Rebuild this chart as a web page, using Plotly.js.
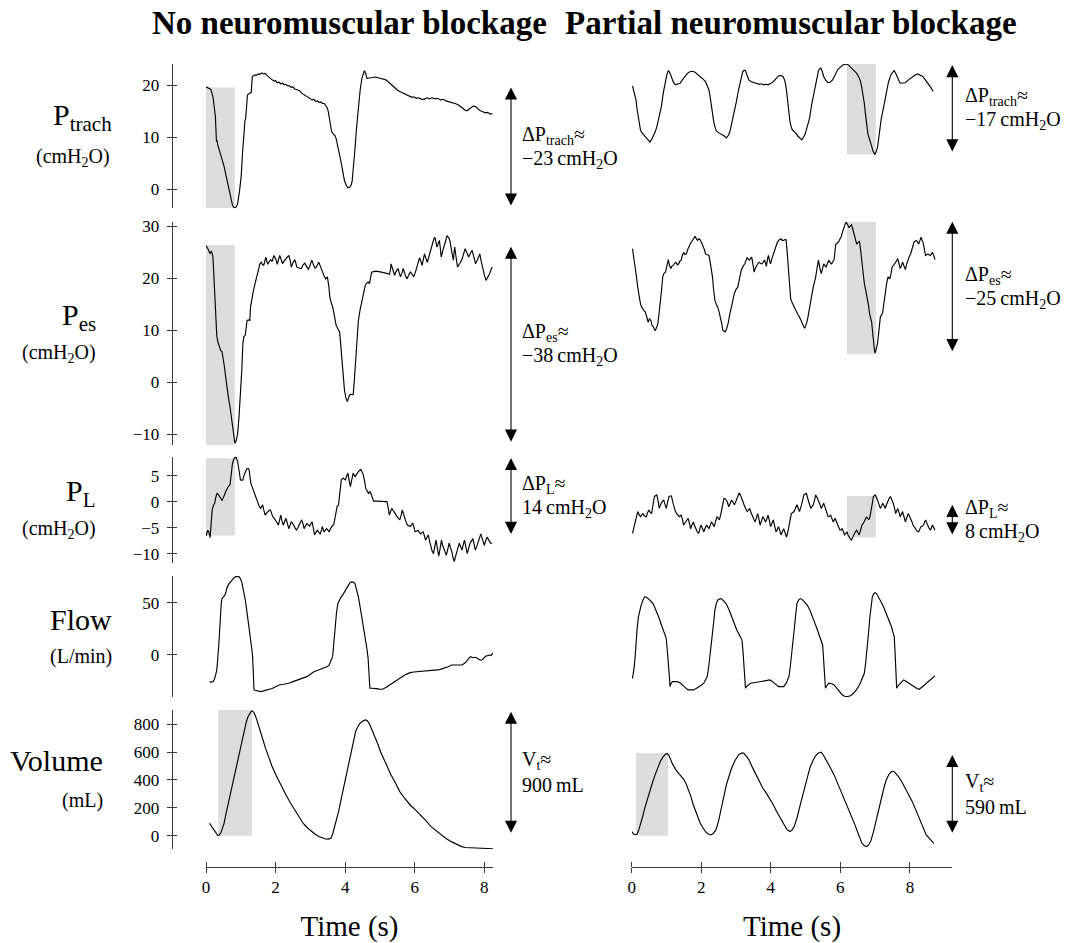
<!DOCTYPE html>
<html><head><meta charset="utf-8">
<script src="https://cdn.plot.ly/plotly-3.0.1.min.js"></script>
<style>html,body{margin:0;padding:0;background:#fff}</style>
</head><body><div id="chart" style="width:1075px;height:943px"></div>
<script>
// ---------------- DATA (time s, value) ----------------
const pTrachLeft = [[0,19.7],[0.07,19.5],[0.14,19.2],[0.2,17.8],[0.24,15.5],[0.27,14],[0.3,9.2],[0.32,9.3],[0.34,8.5],[0.38,7.6],[0.42,6.9],[0.47,5.6],[0.52,4.4],[0.56,3.1],[0.61,1.5],[0.65,0],[0.69,-1.4],[0.73,-2.3],[0.76,-3],[0.8,-3.5],[0.83,-3.6],[0.87,-3.4],[0.91,-2.7],[0.96,-0.5],[1.01,2.4],[1.05,7],[1.09,12],[1.12,13.2],[1.14,13.6],[1.17,16.5],[1.19,18.1],[1.23,18.4],[1.26,18.5],[1.3,18.6],[1.33,21.7],[1.37,21.8],[1.41,22],[1.45,21.9],[1.5,22.2],[1.55,22.1],[1.6,22.4],[1.65,22.2],[1.7,22.3],[1.75,21.9],[1.8,21.6],[1.85,21.3],[1.9,21.1],[1.95,20.8],[2.0,20.9],[2.05,20.5],[2.1,20.6],[2.15,20.3],[2.2,20.4],[2.25,20.1],[2.3,20.2],[2.35,19.9],[2.4,19.9],[2.45,19.6],[2.5,19.7],[2.55,19.3],[2.6,19.2],[2.65,19.0],[2.7,18.9],[2.75,18.5],[2.8,18.3],[2.85,18.1],[2.9,17.9],[2.95,17.6],[3.0,17.5],[3.05,17.2],[3.1,17.3],[3.15,16.9],[3.2,17.0],[3.25,16.7],[3.3,16.8],[3.35,16.5],[3.4,16.5],[3.45,16.1],[3.49,15.6],[3.52,14.8],[3.54,14],[3.57,12.0],[3.61,11.1],[3.66,10.6],[3.7,10.4],[3.74,9.8],[3.79,8.3],[3.84,6.9],[3.89,5.0],[3.94,3.1],[3.98,1.7],[4.03,0.8],[4.08,0.3],[4.13,0.4],[4.17,0.8],[4.2,1.5],[4.24,4.0],[4.28,7.6],[4.33,12],[4.38,15.9],[4.43,19.0],[4.48,21.3],[4.52,22.5],[4.55,22.8],[4.58,22.5],[4.61,21.8],[4.63,21.3],[4.68,21.4],[4.73,21.5],[4.8,21.5],[4.88,21.6],[4.95,21.4],[5.02,21.3],[5.1,21.2],[5.18,21.0],[5.27,20.5],[5.35,20.0],[5.42,19.5],[5.5,19.1],[5.57,18.8],[5.63,18.6],[5.7,18.4],[5.77,18.2],[5.85,18.0],[5.92,17.7],[5.97,17.8],[6.05,17.5],[6.12,17.6],[6.2,17.3],[6.27,17.3],[6.35,17.6],[6.42,17.4],[6.5,17.6],[6.58,17.4],[6.66,17.5],[6.74,17.2],[6.82,17.3],[6.9,17.0],[6.96,16.9],[7.04,16.7],[7.12,16.5],[7.2,16.4],[7.26,16.2],[7.33,15.9],[7.4,15.5],[7.45,15.2],[7.5,15.1],[7.56,15.4],[7.62,15.8],[7.68,16.0],[7.75,15.9],[7.8,15.5],[7.86,15.2],[7.92,15.0],[7.97,14.8],[8.03,14.7],[8.1,14.8],[8.16,14.5],[8.23,14.5]];
const pTrachRight = [[0.02,19.9],[0.06,19.0],[0.09,18],[0.12,17.2],[0.15,15.5],[0.19,13.9],[0.22,12.5],[0.25,11.4],[0.28,11.0],[0.32,10.7],[0.37,10.4],[0.42,9.9],[0.47,9.6],[0.52,9.1],[0.57,9.6],[0.62,10.2],[0.67,11.0],[0.72,12],[0.78,13.8],[0.85,15.9],[0.91,18.7],[0.97,21],[1.01,22.1],[1.05,22.8],[1.08,22.6],[1.12,22],[1.16,21.2],[1.19,20.7],[1.23,20.3],[1.27,20.1],[1.33,20.3],[1.39,20.4],[1.45,21.0],[1.52,21.7],[1.6,22.3],[1.67,22.6],[1.75,22.7],[1.82,22.5],[1.9,22.1],[1.97,21.7],[2.05,21.2],[2.12,20.7],[2.18,19.9],[2.22,19.1],[2.26,17.5],[2.29,15.9],[2.32,14.5],[2.35,13.3],[2.38,12.3],[2.42,11.4],[2.47,11.0],[2.52,10.8],[2.57,10.7],[2.62,10.4],[2.67,10.2],[2.72,9.9],[2.77,10.3],[2.82,11],[2.88,12.8],[2.95,14.6],[3.01,16.9],[3.07,19.1],[3.13,21.0],[3.19,22.6],[3.23,22.9],[3.27,22.8],[3.32,21.9],[3.37,21],[3.44,20.7],[3.52,20.5],[3.6,20.4],[3.67,20.2],[3.72,20.3],[3.8,20.1],[3.86,20.2],[3.92,20.1],[4.0,20.4],[4.07,20.7],[4.15,21.3],[4.22,21.8],[4.28,21.9],[4.35,21.7],[4.39,21.1],[4.42,20.4],[4.46,18.5],[4.49,16.5],[4.52,14.6],[4.55,13],[4.58,12.1],[4.62,11.4],[4.67,11.1],[4.72,10.8],[4.77,10.3],[4.82,9.9],[4.86,9.7],[4.89,9.5],[4.94,10.0],[4.99,10.7],[5.05,12.1],[5.12,13.9],[5.18,16.5],[5.25,19.1],[5.31,21.0],[5.37,22.8],[5.41,23.2],[5.44,23.3],[5.48,22.6],[5.52,21.7],[5.58,21.0],[5.64,20.5],[5.7,20.6],[5.77,21],[5.85,22.0],[5.92,23],[6.0,23.5],[6.07,23.9],[6.13,24.0],[6.19,24.1],[6.25,23.8],[6.32,23.3],[6.4,22.8],[6.47,22.3],[6.52,21.7],[6.57,21],[6.61,19.8],[6.65,18.5],[6.69,16.5],[6.72,14.6],[6.76,12.5],[6.79,10.7],[6.83,9.8],[6.87,9.1],[6.9,8.3],[6.93,7.5],[6.96,6.9],[6.99,6.7],[7.03,7.2],[7.07,8.1],[7.12,10.7],[7.17,13.3],[7.25,16.0],[7.32,18.5],[7.38,20.5],[7.45,22],[7.5,22.6],[7.54,22.8],[7.58,22.5],[7.62,22],[7.67,21.1],[7.72,20.4],[7.8,20.4],[7.87,20.5],[7.95,21.0],[8.02,21.4],[8.07,21.7],[8.15,22.0],[8.22,22.2],[8.3,22.0],[8.37,21.7],[8.45,21.0],[8.52,20.4],[8.6,19.6],[8.67,18.8]];
const pEsLeft = [[0,26.3],[0.04,25.9],[0.07,25.5],[0.1,25.0],[0.12,24.8],[0.15,25.2],[0.17,25],[0.2,24.1],[0.22,21],[0.24,17.1],[0.26,13.5],[0.28,10.7],[0.31,9.0],[0.34,7.8],[0.38,6.8],[0.42,6.2],[0.46,5.9],[0.5,4.5],[0.53,3],[0.57,0.8],[0.61,-1.5],[0.65,-3.2],[0.69,-4.7],[0.73,-6.8],[0.76,-8.5],[0.8,-10.5],[0.83,-11.7],[0.87,-11.2],[0.91,-9.8],[0.95,-6.5],[0.99,-2.7],[1.03,2.5],[1.06,7.5],[1.09,8.8],[1.13,9.1],[1.16,11.5],[1.18,11.9],[1.22,12.0],[1.26,11.9],[1.28,14.5],[1.31,15.8],[1.36,17.5],[1.41,19],[1.46,20.5],[1.51,21.9],[1.55,22.8],[1.59,23.1],[1.62,22.7],[1.66,22.5],[1.69,23.5],[1.72,24.1],[1.75,23.2],[1.78,22.7],[1.82,23.3],[1.86,23.6],[1.9,23.2],[1.95,24.4],[2.0,23.8],[2.05,22.7],[2.08,23.5],[2.12,24.4],[2.16,23.6],[2.2,22.8],[2.24,23.3],[2.28,23.6],[2.33,24.0],[2.38,24.4],[2.42,23.5],[2.45,22.2],[2.5,23.0],[2.55,23.6],[2.58,23.0],[2.61,22.2],[2.67,22.0],[2.74,21.9],[2.79,22.6],[2.84,22.9],[2.89,22.3],[2.94,21.7],[2.99,22.5],[3.04,23.5],[3.09,22.6],[3.14,21.9],[3.19,22.4],[3.24,23.1],[3.29,22.3],[3.34,21.2],[3.39,20.5],[3.44,19.9],[3.49,20.3],[3.53,18.5],[3.56,16.4],[3.6,15.3],[3.64,14.5],[3.69,12.8],[3.74,11],[3.79,10.3],[3.84,9.7],[3.87,7.5],[3.9,4.9],[3.94,1.5],[3.98,-1.5],[4.02,-3.0],[4.06,-3.7],[4.1,-3.0],[4.13,-2.4],[4.18,-2.3],[4.23,-2.4],[4.26,0],[4.28,2.4],[4.33,7.5],[4.38,11.9],[4.43,14.0],[4.48,15.8],[4.53,17.5],[4.58,18.7],[4.62,19.1],[4.66,19.3],[4.7,19],[4.73,20.5],[4.76,21.2],[4.82,21.3],[4.88,21.4],[4.97,21.3],[5.07,21.2],[5.17,21.0],[5.27,20.8],[5.3,21.5],[5.32,22.8],[5.37,21.5],[5.42,20.6],[5.47,21.4],[5.52,21.9],[5.56,20.9],[5.59,20.3],[5.63,21.0],[5.67,21.9],[5.72,20.8],[5.77,19.9],[5.82,20.5],[5.87,21.2],[5.92,20.8],[5.97,20.3],[6.02,21.2],[6.06,22.2],[6.1,23.2],[6.14,24],[6.18,23.2],[6.21,22.5],[6.25,23.7],[6.28,24.7],[6.32,23.9],[6.36,23.1],[6.4,24.0],[6.44,25],[6.48,26.2],[6.51,27],[6.55,27.6],[6.58,27.9],[6.61,27.0],[6.64,26],[6.68,26.8],[6.71,27.3],[6.74,25.5],[6.76,24.1],[6.81,25.4],[6.86,26.6],[6.9,27.6],[6.93,28.2],[6.97,27.9],[7.01,27.3],[7.06,25.3],[7.11,23.5],[7.13,25.0],[7.15,26],[7.19,24.0],[7.23,22.2],[7.29,22.8],[7.35,23.5],[7.4,24.6],[7.45,25.7],[7.5,24.9],[7.55,24.1],[7.6,24.8],[7.65,25.4],[7.7,24.1],[7.75,22.8],[7.81,23.7],[7.87,24.7],[7.91,23.3],[7.95,21.9],[8.0,20.7],[8.05,19.6],[8.1,20.2],[8.15,20.9],[8.19,21.6],[8.23,22.2]];
const pEsRight = [[0.02,25.7],[0.05,24.5],[0.09,22.8],[0.13,20.5],[0.17,18.3],[0.21,16.5],[0.25,15.1],[0.28,14.5],[0.32,14],[0.35,13.8],[0.39,13.5],[0.43,12.3],[0.47,11.6],[0.51,12.2],[0.55,11.9],[0.58,11.0],[0.62,10.7],[0.65,10.2],[0.67,9.9],[0.71,10.5],[0.75,11.3],[0.78,13.0],[0.82,15.1],[0.86,18.0],[0.89,20.3],[0.93,21.0],[0.97,21.2],[1.01,22.8],[1.05,23.6],[1.08,22.6],[1.12,21.9],[1.15,22.3],[1.19,22.5],[1.23,22.9],[1.27,23.1],[1.31,22.6],[1.35,22.8],[1.38,23.3],[1.42,23.5],[1.45,24.3],[1.49,25],[1.53,24.6],[1.57,24.7],[1.61,25.6],[1.65,26.3],[1.7,26.9],[1.75,27.3],[1.79,27.8],[1.82,28.1],[1.86,27.6],[1.89,27.3],[1.93,27.6],[1.97,27.4],[2.01,26.8],[2.05,26.3],[2.09,25.5],[2.12,24.7],[2.17,24.6],[2.22,24.4],[2.27,22.5],[2.32,20.3],[2.35,18.0],[2.39,15.8],[2.43,15.0],[2.47,14.5],[2.51,13.6],[2.55,12.6],[2.59,11.2],[2.62,10],[2.66,9.8],[2.69,9.7],[2.73,10.4],[2.77,11.3],[2.81,12.8],[2.85,14.2],[2.9,15.8],[2.95,17.1],[3.0,17.9],[3.05,18.3],[3.1,20.0],[3.15,21.6],[3.2,22.3],[3.25,22.8],[3.29,23.5],[3.32,24],[3.36,23.6],[3.39,23.5],[3.42,23.9],[3.45,24.1],[3.49,22.5],[3.52,21.2],[3.55,21.9],[3.59,22.5],[3.63,22.9],[3.67,23.1],[3.71,22.8],[3.75,22.8],[3.79,23.2],[3.82,23.5],[3.85,22.9],[3.87,22.3],[3.9,23.5],[3.93,24.4],[3.96,23.5],[3.99,22.8],[4.03,23.8],[4.07,24.7],[4.11,25.3],[4.15,26],[4.18,26.8],[4.22,27.3],[4.25,27.5],[4.29,27.6],[4.33,27.3],[4.37,27.3],[4.41,27.5],[4.44,27.4],[4.47,25.0],[4.49,22.8],[4.53,19.5],[4.57,16.1],[4.62,15.2],[4.67,14.5],[4.71,13.8],[4.75,13.2],[4.79,12.9],[4.82,12.6],[4.86,12.0],[4.89,11.6],[4.93,11.0],[4.97,10.4],[5.01,11.0],[5.05,11.9],[5.09,13.4],[5.12,14.8],[5.17,16.5],[5.22,18.3],[5.26,19.4],[5.29,20.3],[5.33,22.0],[5.37,23.5],[5.41,22.0],[5.45,20.9],[5.49,21.9],[5.52,22.8],[5.56,22.4],[5.59,22.2],[5.63,22.9],[5.67,23.5],[5.71,23.0],[5.75,22.8],[5.79,23.3],[5.82,23.6],[5.85,25.5],[5.87,26.6],[5.91,26.8],[5.95,27],[5.99,27.6],[6.02,27.9],[6.06,28.9],[6.1,29.8],[6.14,30.5],[6.17,30.8],[6.21,30.3],[6.25,29.8],[6.29,30.1],[6.32,30.3],[6.36,29.4],[6.39,28.6],[6.43,27.5],[6.47,26.6],[6.51,26.9],[6.55,27.1],[6.59,25.0],[6.62,22.8],[6.66,20.9],[6.69,19],[6.73,17.7],[6.77,16.4],[6.81,14.8],[6.84,13.2],[6.87,12.4],[6.9,11.6],[6.93,9.5],[6.95,7.5],[6.98,6.2],[7.0,5.6],[7.03,6.3],[7.07,7.5],[7.11,10.0],[7.15,12.6],[7.19,13.0],[7.22,13.5],[7.26,15.6],[7.29,17.7],[7.33,19.0],[7.37,20.3],[7.4,20.1],[7.42,19.9],[7.46,21.0],[7.49,22.2],[7.53,22.5],[7.57,22.8],[7.61,23.3],[7.65,23.8],[7.69,22.8],[7.72,21.9],[7.76,22.5],[7.79,23.1],[7.83,22.4],[7.87,21.7],[7.91,22.8],[7.95,23.8],[7.99,24.3],[8.02,24.7],[8.07,25.9],[8.12,27],[8.16,27.2],[8.19,27.3],[8.22,27.0],[8.25,26.6],[8.29,27.3],[8.32,27.9],[8.36,27.2],[8.39,26.6],[8.42,25.5],[8.45,24.4],[8.49,24.6],[8.52,24.7],[8.56,24.5],[8.59,24.4],[8.62,24.7],[8.65,25],[8.69,24.3],[8.72,23.6]];
const pLLeft = [[0,-6.6],[0.03,-6.0],[0.05,-5.5],[0.08,-5.8],[0.1,-6.5],[0.12,-6.9],[0.15,-4.0],[0.18,-1.5],[0.22,-0.6],[0.25,-0.3],[0.28,0.8],[0.32,1.6],[0.36,1.3],[0.4,1],[0.43,0.6],[0.46,0.2],[0.5,0.7],[0.53,1.3],[0.57,2.0],[0.61,2.6],[0.65,3.0],[0.69,3.2],[0.71,4.6],[0.73,6.1],[0.76,7.3],[0.79,8],[0.82,8.4],[0.86,8.6],[0.88,8.2],[0.91,7.7],[0.95,6.0],[0.99,4.2],[1.03,4.1],[1.06,4.2],[1.09,5.0],[1.13,5.8],[1.17,6.3],[1.21,6.4],[1.24,6.1],[1.26,5.0],[1.29,3.5],[1.34,2.6],[1.39,1.6],[1.44,0.6],[1.49,-0.3],[1.53,-0.9],[1.57,-1.3],[1.6,-1.0],[1.63,-0.6],[1.66,-1.6],[1.7,-2.6],[1.74,-2.2],[1.78,-1.9],[1.81,-1.7],[1.85,-1.6],[1.88,-2.3],[1.92,-2.9],[1.96,-3.2],[2.0,-3.5],[2.04,-4.0],[2.08,-4.5],[2.11,-3.5],[2.15,-2.6],[2.18,-3.6],[2.22,-4.5],[2.26,-3.8],[2.3,-3.2],[2.34,-4.2],[2.38,-5.2],[2.42,-4.5],[2.45,-3.9],[2.49,-4.2],[2.52,-4.5],[2.56,-5.0],[2.6,-5.5],[2.64,-5.0],[2.68,-4.5],[2.71,-4.0],[2.75,-3.5],[2.79,-4.3],[2.82,-5.2],[2.86,-4.7],[2.9,-4.2],[2.94,-4.5],[2.98,-4.7],[3.01,-4.3],[3.05,-3.9],[3.09,-5.2],[3.12,-6.4],[3.16,-5.9],[3.2,-5.5],[3.24,-5.9],[3.28,-6.2],[3.32,-5.5],[3.34,-4.8],[3.37,-5.3],[3.39,-5.8],[3.43,-5.5],[3.47,-5.2],[3.51,-5.5],[3.54,-5.8],[3.57,-5.3],[3.61,-4.8],[3.64,-4.6],[3.67,-4.5],[3.71,-2.9],[3.74,-1.3],[3.77,-0.9],[3.81,-0.6],[3.85,1.8],[3.89,4.2],[3.92,4.4],[3.95,4.5],[3.98,4.3],[4.01,4.2],[4.04,4.9],[4.08,5.5],[4.11,4.2],[4.15,2.9],[4.19,4.2],[4.23,5.5],[4.26,5.1],[4.29,4.8],[4.33,5.3],[4.37,5.8],[4.41,6.0],[4.45,6.2],[4.48,5.7],[4.52,5.2],[4.56,3.9],[4.59,2.6],[4.63,2.1],[4.67,1.6],[4.69,1.8],[4.72,1.9],[4.77,1.0],[4.82,0.1],[4.9,0.1],[4.97,0.1],[5.05,0.1],[5.12,0.1],[5.2,0],[5.24,-1.3],[5.27,-2.6],[5.3,-2.0],[5.34,-1.3],[5.37,-1.6],[5.41,-1.9],[5.45,-2.4],[5.49,-2.9],[5.53,-3.2],[5.57,-3.5],[5.61,-2.6],[5.64,-1.6],[5.68,-2.4],[5.71,-3.2],[5.75,-3.9],[5.79,-4.5],[5.83,-4.7],[5.87,-4.8],[5.9,-4.5],[5.94,-4.1],[5.98,-5.0],[6.01,-5.8],[6.05,-5.7],[6.09,-5.5],[6.13,-5.9],[6.17,-6.2],[6.2,-6.0],[6.24,-5.8],[6.28,-6.6],[6.31,-7.4],[6.35,-6.9],[6.39,-6.4],[6.43,-7.7],[6.47,-9],[6.5,-9.5],[6.54,-10],[6.58,-8.7],[6.61,-7.4],[6.65,-9.0],[6.69,-10.5],[6.73,-9.0],[6.77,-7.4],[6.8,-8.4],[6.84,-9.3],[6.88,-9.8],[6.91,-10.3],[6.95,-9.2],[6.99,-8],[7.03,-8.9],[7.07,-9.7],[7.1,-10.8],[7.14,-11.5],[7.17,-10.6],[7.21,-9.3],[7.25,-8.7],[7.28,-8],[7.32,-8.7],[7.36,-9.3],[7.39,-8.4],[7.43,-7.4],[7.47,-8.7],[7.51,-10],[7.55,-9.0],[7.59,-8],[7.63,-7.6],[7.67,-7.1],[7.71,-8.2],[7.74,-9.3],[7.78,-8.7],[7.82,-8],[7.86,-7.1],[7.9,-6.2],[7.95,-7.3],[8.0,-8.4],[8.04,-7.5],[8.08,-6.8],[8.13,-7.4],[8.18,-8.0],[8.23,-8.0]];
const pLRight = [[0.02,-6.1],[0.05,-5.2],[0.09,-4.5],[0.13,-3.0],[0.17,-1.9],[0.21,-2.5],[0.25,-2.9],[0.29,-2.5],[0.32,-2.3],[0.37,-2.8],[0.42,-2.9],[0.45,-2.2],[0.49,-1.6],[0.53,-2.0],[0.57,-2.3],[0.61,-0.6],[0.65,1],[0.69,1.2],[0.72,1.3],[0.76,0.0],[0.79,-1.3],[0.82,-0.7],[0.85,-0.3],[0.88,0.1],[0.92,0.3],[0.95,-0.6],[0.99,-1.3],[1.03,-0.2],[1.07,1],[1.1,1.1],[1.14,1.1],[1.18,-0.1],[1.22,-1.3],[1.25,-1.8],[1.29,-2.3],[1.33,-2.6],[1.37,-2.9],[1.4,-2.7],[1.42,-2.6],[1.46,-3.5],[1.49,-4.5],[1.52,-4.2],[1.55,-3.9],[1.59,-3.5],[1.62,-3.2],[1.66,-4.2],[1.69,-5.2],[1.73,-4.5],[1.77,-3.9],[1.81,-4.7],[1.85,-5.5],[1.88,-5.8],[1.92,-6.1],[1.96,-5.3],[1.99,-4.5],[2.03,-5.1],[2.07,-5.8],[2.11,-5.1],[2.15,-4.5],[2.19,-4.9],[2.22,-5.2],[2.26,-4.5],[2.29,-3.9],[2.33,-4.3],[2.37,-4.8],[2.41,-3.8],[2.45,-2.9],[2.49,-3.2],[2.52,-3.5],[2.56,-2.4],[2.59,-1.3],[2.62,-0.3],[2.65,0.6],[2.69,0.5],[2.72,0.3],[2.76,-0.3],[2.79,-1],[2.83,-0.3],[2.87,0.3],[2.91,-0.1],[2.95,-0.6],[2.99,0.0],[3.02,0.6],[3.06,1.2],[3.09,1.7],[3.13,1.2],[3.17,0.6],[3.21,-0.2],[3.25,-1],[3.29,-1.5],[3.32,-1.9],[3.36,-1.6],[3.39,-1.3],[3.43,-2.1],[3.47,-2.9],[3.51,-3.4],[3.55,-3.9],[3.59,-3.1],[3.62,-2.3],[3.66,-3.4],[3.69,-4.5],[3.73,-3.7],[3.77,-2.9],[3.81,-3.4],[3.85,-3.9],[3.89,-3.2],[3.92,-2.6],[3.96,-3.7],[3.99,-4.8],[4.03,-4.2],[4.07,-3.5],[4.11,-4.7],[4.15,-5.8],[4.19,-5.3],[4.22,-4.8],[4.26,-5.6],[4.29,-6.4],[4.33,-5.8],[4.37,-5.2],[4.41,-6.0],[4.45,-6.8],[4.49,-5.8],[4.52,-4.8],[4.56,-3.5],[4.59,-2.3],[4.63,-2.1],[4.67,-1.9],[4.71,-1.2],[4.75,-0.6],[4.79,-1.3],[4.82,-1.9],[4.86,-1.2],[4.89,-0.6],[4.92,0.4],[4.95,1.3],[4.99,1.5],[5.02,1.6],[5.05,0.9],[5.07,0.3],[5.11,-0.5],[5.15,-1.3],[5.19,-1.0],[5.22,-0.6],[5.26,0.4],[5.29,1.3],[5.33,0.8],[5.37,0.3],[5.41,-0.5],[5.45,-1.3],[5.49,-0.8],[5.52,-0.3],[5.56,-1.1],[5.59,-1.9],[5.62,-2.4],[5.65,-2.9],[5.69,-2.8],[5.72,-2.6],[5.76,-3.3],[5.79,-3.9],[5.82,-3.6],[5.85,-3.2],[5.89,-3.9],[5.92,-4.5],[5.96,-5.0],[5.99,-5.5],[6.02,-5.4],[6.05,-5.2],[6.09,-5.8],[6.12,-6.4],[6.16,-6.1],[6.19,-5.8],[6.22,-6.4],[6.25,-6.9],[6.29,-7.2],[6.32,-7.4],[6.36,-6.8],[6.39,-6.1],[6.43,-5.8],[6.47,-5.5],[6.51,-6.0],[6.54,-6.4],[6.58,-5.5],[6.62,-4.5],[6.66,-4.2],[6.69,-3.9],[6.72,-3.4],[6.75,-2.9],[6.79,-3.2],[6.82,-3.5],[6.85,-2.9],[6.87,-2.3],[6.91,-0.7],[6.95,1],[6.98,1.2],[7.0,1.3],[7.04,0.8],[7.07,0.3],[7.11,-0.5],[7.15,-1.3],[7.19,-0.8],[7.22,-0.3],[7.26,-0.8],[7.29,-1.3],[7.33,-0.5],[7.37,0.3],[7.41,0.7],[7.44,1],[7.48,0.4],[7.52,-0.3],[7.56,-1.3],[7.59,-2.3],[7.62,-1.8],[7.65,-1.3],[7.69,-2.1],[7.72,-2.9],[7.76,-2.4],[7.79,-1.9],[7.83,-2.9],[7.87,-3.9],[7.91,-3.1],[7.95,-2.3],[7.99,-2.8],[8.02,-3.2],[8.06,-3.9],[8.09,-4.5],[8.13,-5.0],[8.17,-5.5],[8.21,-5.7],[8.25,-5.8],[8.29,-5.3],[8.32,-4.8],[8.36,-4.7],[8.39,-4.5],[8.42,-4.0],[8.45,-3.5],[8.49,-4.2],[8.52,-4.8],[8.56,-5.2],[8.59,-5.5],[8.62,-5.0],[8.65,-4.5],[8.69,-5.0],[8.72,-5.5]];
const flowLeft = [[0.1,-26],[0.15,-25.8],[0.2,-25.5],[0.24,-23.5],[0.27,-20.7],[0.3,-16],[0.32,-11],[0.35,0],[0.37,11],[0.4,28],[0.42,43],[0.44,50],[0.46,54],[0.5,56],[0.54,57],[0.58,61],[0.61,65],[0.66,68],[0.71,70],[0.76,72.5],[0.81,74],[0.86,75],[0.91,75.3],[0.95,74.8],[0.99,73],[1.03,69.5],[1.06,65],[1.1,59],[1.13,52.5],[1.17,43],[1.21,33],[1.25,25],[1.29,17.5],[1.32,5],[1.34,-1.6],[1.36,-20],[1.38,-33.4],[1.42,-33.8],[1.46,-34],[1.51,-34.6],[1.56,-35],[1.63,-34.6],[1.7,-34],[1.8,-33],[1.9,-32],[2.0,-30.3],[2.1,-28.7],[2.2,-28.2],[2.3,-27.7],[2.4,-26.8],[2.5,-25.5],[2.6,-24.3],[2.7,-23.2],[2.8,-22.1],[2.9,-20.7],[3.0,-18.5],[3.1,-16],[3.2,-14.8],[3.29,-13.7],[3.39,-12.5],[3.49,-11.1],[3.54,-9.5],[3.59,-6],[3.64,-1.6],[3.67,10],[3.71,27],[3.75,40],[3.79,49.4],[3.84,53],[3.89,55.7],[3.94,58],[3.98,60.5],[4.03,63.5],[4.08,67],[4.13,68.8],[4.18,70],[4.23,69.8],[4.28,68.5],[4.33,63],[4.38,55.7],[4.43,46],[4.48,36.6],[4.54,26],[4.59,16],[4.63,5],[4.66,-3.2],[4.69,-20],[4.71,-31.8],[4.76,-31.8],[4.82,-31.8],[4.9,-32.2],[4.98,-32.6],[5.07,-32.8],[5.17,-31],[5.27,-28.7],[5.37,-26.3],[5.47,-24.2],[5.57,-22.3],[5.67,-20.2],[5.77,-18.3],[5.87,-16.9],[5.97,-16.3],[6.07,-16.0],[6.17,-15.9],[6.3,-15.7],[6.43,-15.4],[6.56,-15],[6.66,-14.3],[6.76,-13.5],[6.86,-12.7],[6.96,-11.2],[7.06,-9.6],[7.16,-9.7],[7.26,-9.8],[7.36,-9.6],[7.45,-7.5],[7.52,-4.5],[7.6,-1.6],[7.68,-2.6],[7.75,-2.2],[7.82,-3.5],[7.88,-4.8],[7.93,-4.8],[7.99,-3.0],[8.05,-1],[8.1,-0.6],[8.15,0],[8.2,-0.5],[8.25,2.2]];
const flowRight = [[0.02,-22.3],[0.05,-17],[0.07,-11.1],[0.1,0],[0.12,11.1],[0.15,24],[0.19,36.6],[0.23,43],[0.27,47.8],[0.32,52.5],[0.37,55.7],[0.42,55.5],[0.47,54.1],[0.55,51.5],[0.62,48.7],[0.7,43],[0.77,36.6],[0.85,29],[0.92,22.3],[0.96,19],[0.99,16],[1.02,5],[1.05,-4.8],[1.08,-20],[1.1,-30.3],[1.13,-27],[1.17,-25.5],[1.25,-25.2],[1.32,-25.5],[1.4,-27],[1.47,-28.7],[1.55,-31.5],[1.62,-33.4],[1.7,-33.7],[1.77,-33.4],[1.85,-32],[1.92,-30.9],[2.0,-29],[2.07,-27],[2.12,-24.5],[2.17,-20.7],[2.21,-12],[2.25,-1.6],[2.28,9],[2.32,20.7],[2.36,33],[2.39,43],[2.43,49],[2.47,52.5],[2.52,53.5],[2.57,54],[2.65,51.5],[2.72,48.7],[2.8,43],[2.87,36.6],[2.95,30],[3.02,23.9],[3.1,19],[3.17,14.3],[3.2,3],[3.22,-8],[3.25,-22],[3.27,-31.8],[3.32,-29.5],[3.42,-27],[3.55,-26.3],[3.67,-25.5],[3.8,-24.8],[3.9,-24],[3.97,-23.9],[4.05,-25.5],[4.12,-27],[4.17,-28.8],[4.22,-30.3],[4.3,-30.5],[4.37,-30.3],[4.45,-26.5],[4.52,-20.7],[4.56,-11],[4.59,-1.6],[4.63,12],[4.67,27],[4.71,39],[4.75,49.4],[4.8,52.5],[4.85,54],[4.91,53],[4.97,51],[5.05,47.5],[5.12,43],[5.2,37],[5.27,30.3],[5.35,23],[5.42,16],[5.49,9.6],[5.51,0],[5.53,-8],[5.55,-20],[5.57,-31.8],[5.62,-29],[5.67,-27],[5.75,-27.5],[5.82,-28.7],[5.9,-32],[5.97,-35],[6.05,-38],[6.12,-39.5],[6.2,-39.8],[6.27,-39.2],[6.35,-37.5],[6.42,-35],[6.5,-31.5],[6.57,-27],[6.63,-22.5],[6.69,-17.5],[6.73,-7],[6.77,4.8],[6.81,21],[6.85,36.6],[6.88,47],[6.92,55.7],[6.96,58.5],[7.0,59.6],[7.04,58.8],[7.07,57.3],[7.12,54.5],[7.17,51],[7.25,45.5],[7.32,39.8],[7.4,33.5],[7.47,27],[7.51,22],[7.55,17.5],[7.57,5],[7.59,-8],[7.61,-22],[7.62,-31.8],[7.67,-29],[7.72,-27],[7.77,-25.3],[7.82,-23.9],[7.9,-25.3],[7.97,-27],[8.05,-29],[8.12,-30.9],[8.2,-32],[8.27,-32.8],[8.35,-31],[8.42,-28.7],[8.5,-26.3],[8.57,-23.9],[8.65,-22],[8.72,-20]];
const volLeft = [[0.1,89],[0.16,65],[0.22,41],[0.28,18],[0.34,0],[0.38,5],[0.42,17],[0.47,50],[0.52,89],[0.56,140],[0.61,196],[0.67,262],[0.73,328],[0.8,406],[0.86,484],[0.93,560],[0.99,628],[1.05,700],[1.11,771],[1.16,818],[1.21,855],[1.26,881],[1.31,896],[1.35,892],[1.39,879],[1.45,840],[1.51,795],[1.61,710],[1.71,628],[1.8,560],[1.9,496],[2.0,440],[2.1,388],[2.2,340],[2.3,292],[2.42,238],[2.55,184],[2.67,135],[2.79,89],[2.92,55],[3.04,29],[3.14,10],[3.24,-7],[3.34,-17],[3.44,-24],[3.52,-25],[3.59,-19],[3.64,10],[3.69,53],[3.75,110],[3.81,172],[3.87,245],[3.93,316],[3.99,400],[4.06,484],[4.12,560],[4.18,628],[4.24,690],[4.3,747],[4.37,785],[4.43,807],[4.5,822],[4.58,831],[4.63,826],[4.68,810],[4.73,783],[4.83,725],[4.93,663],[5.02,600],[5.12,544],[5.22,490],[5.32,436],[5.45,376],[5.57,316],[5.72,265],[5.87,220],[6.02,185],[6.17,149],[6.32,108],[6.47,65],[6.62,33],[6.76,5],[6.9,-20],[7.05,-43],[7.2,-63],[7.35,-79],[7.45,-85],[7.55,-86],[7.65,-88],[7.75,-90],[7.85,-93],[7.95,-95],[8.1,-95],[8.25,-94]];
const volRight = [[0.0,29],[0.05,12],[0.1,8],[0.15,10],[0.2,40],[0.25,77],[0.31,135],[0.37,196],[0.45,265],[0.52,328],[0.6,385],[0.67,436],[0.75,487],[0.82,532],[0.9,565],[0.97,585],[1.02,590],[1.07,575],[1.17,515],[1.27,472],[1.37,440],[1.47,412],[1.55,380],[1.62,340],[1.7,282],[1.77,220],[1.87,150],[1.97,89],[2.05,55],[2.12,29],[2.2,12],[2.27,5],[2.34,15],[2.42,41],[2.5,110],[2.57,196],[2.65,282],[2.72,364],[2.8,430],[2.87,484],[2.97,540],[3.07,580],[3.15,592],[3.22,592],[3.3,570],[3.37,544],[3.47,490],[3.57,436],[3.67,388],[3.77,340],[3.87,305],[3.97,268],[4.07,222],[4.17,172],[4.27,125],[4.37,77],[4.46,45],[4.55,29],[4.61,40],[4.67,65],[4.75,125],[4.82,196],[4.9,275],[4.97,352],[5.05,420],[5.12,484],[5.2,532],[5.27,568],[5.36,592],[5.45,599],[5.53,570],[5.62,532],[5.72,484],[5.82,436],[5.92,378],[6.02,316],[6.12,255],[6.22,196],[6.32,137],[6.42,77],[6.52,10],[6.62,-55],[6.69,-72],[6.75,-79],[6.81,-67],[6.87,-43],[6.95,25],[7.02,101],[7.1,185],[7.17,268],[7.25,340],[7.32,400],[7.4,440],[7.47,460],[7.53,462],[7.58,450],[7.67,424],[7.77,385],[7.87,340],[7.97,292],[8.07,244],[8.17,185],[8.27,125],[8.37,65],[8.47,5],[8.58,-25],[8.69,-55]];

// per-row axis settings
const rowTickVals = [[0,10,20],[-10,0,10,20,30],[-10,-5,0,5],[0,50],[0,200,400,600,800]];
const rowRanges = [[-3.65,24.1],[-12.06,30.9],[-11.8,8.65],[-40.2,75.6],[-96,902]];
const timeTicks = [0,2,4,6,8];

// shaded windows [t0, t1, lo, hi]; null = none
const shadeLeft  = [[0,0.83,-3.65,19.6],[0,0.83,-12.06,26.4],[0,0.83,-6.5,8.35],null,[0.35,1.33,0,902]];
const shadeRight = [[6.19,7.02,6.7,24.1],[6.19,7.02,5.4,31],[6.19,7.02,-6.9,1.1],null,[0.12,1.04,0,594]];
// double arrows [lo, hi]
const arrowLeft  = [[-3.4,19.6],[-11.7,26.1],[-6.5,8.4],null,[10,890]];
const arrowRight = [[7.0,23.9],[5.7,30.9],[-6.6,-0.6],null,[10,579]];
const labelLeft  = [["ΔP<sub>trach</sub>≈","−23\u2009cmH<sub>2</sub>O"],["ΔP<sub>es</sub>≈","−38\u2009cmH<sub>2</sub>O"],["ΔP<sub>L</sub>≈","14\u2009cmH<sub>2</sub>O"],null,["V<sub>t</sub>≈","900\u2009mL"]];
const labelRight = [["ΔP<sub>trach</sub>≈","−17\u2009cmH<sub>2</sub>O"],["ΔP<sub>es</sub>≈","−25\u2009cmH<sub>2</sub>O"],["ΔP<sub>L</sub>≈","8\u2009cmH<sub>2</sub>O"],null,["V<sub>t</sub>≈","590\u2009mL"]];
const rowNames = ["P<sub>trach</sub>","P<sub>es</sub>","P<sub>L</sub>","Flow","Volume"];
const rowUnits = ["(cmH<sub>2</sub>O)","(cmH<sub>2</sub>O)","(cmH<sub>2</sub>O)","(L/min)","(mL)"];
const colTitles = ["No neuromuscular blockage","Partial neuromuscular blockage"];

const leftSeries = [pTrachLeft,pEsLeft,pLLeft,flowLeft,volLeft];
const rightSeries = [pTrachRight,pEsRight,pLRight,flowRight,volRight];

// ---------------- LAYOUT GEOMETRY (pixels) ----------------
const W = 1075, H = 943;
const px = v => v / W, py = v => 1 - v / H;
const rowPix = [[64,208.3],[221.7,445],[456.7,563],[576,697],[710,849]];
const namePos = [[114,117],[98,317],[98,493],[114,619],[105,760]];
const unitPos = [[112,158],[98,354],[98,529],[114,656],[105,800]];
const FONT = "Liberation Serif, serif";
const AX = "#3a3a3a";
const EPS = 1e-6; // inner half of the crossing tick marks

const traces = [];
const shapes = [];
const annotations = [];
const layout = {
  width: W, height: H, margin: {l:0,r:0,t:0,b:0,pad:0},
  paper_bgcolor: "#fff", plot_bgcolor: "rgba(0,0,0,0)",
  showlegend: false, font: {family: FONT, color: "#000", size: 17},
  shapes, annotations
};

const xBase = {anchor: "free", position: py(866.7), showline: true, linecolor: AX, linewidth: 1,
  tickvals: timeTicks, showgrid: false, zeroline: false, tickfont: {size: 17, family: FONT},
  ticks: "outside", tickcolor: AX, ticklen: 5, tickwidth: 1,
  minor: {ticks: "inside", tickmode: "array", tickvals: timeTicks.map(v => v + EPS), ticklen: 5, tickwidth: 1, tickcolor: AX, showgrid: false}};
layout.xaxis = Object.assign({}, xBase, {domain: [px(206), px(493)], range: [0, 8.25],
  title: {text: "Time (s)", font: {size: 29, family: FONT}, standoff: 20}});
layout.xaxis2 = Object.assign({}, xBase, {domain: [px(631.8), px(952.3)], range: [0, 9.22],
  title: {text: "Time (s)", font: {size: 29, family: FONT}, standoff: 20}});

for (let r = 0; r < 5; r++) {
  const yn = r === 0 ? "y" : "y" + (r + 1);
  const yk = r === 0 ? "yaxis" : "yaxis" + (r + 1);
  const dom = [py(rowPix[r][1]), py(rowPix[r][0])];
  layout[yk] = {domain: dom, range: rowRanges[r], anchor: "free", position: px(171.7),
    showline: true, linecolor: AX, linewidth: 1, ticks: "outside", ticklen: 5, tickwidth: 1, tickcolor: AX,
    ticklabelstandoff: 4,
    minor: {ticks: "inside", tickmode: "array", tickvals: rowTickVals[r].map(v => v + EPS), ticklen: 4, tickwidth: 1, tickcolor: AX, showgrid: false},
    tickvals: rowTickVals[r], showgrid: false, zeroline: false, tickfont: {size: 17, family: FONT}};

  [[leftSeries[r], "x"], [rightSeries[r], "x2"]].forEach(([s, xa]) => {
    traces.push({type: "scatter", mode: "lines", x: s.map(p => p[0]), y: s.map(p => p[1]),
      xaxis: xa, yaxis: yn, line: {color: "#000", width: 1.15}, hoverinfo: "skip"});
  });

  [[shadeLeft[r], "x"], [shadeRight[r], "x2"]].forEach(([sh, xa]) => {
    if (!sh) return;
    shapes.push({type: "rect", xref: xa, yref: yn, x0: sh[0], x1: sh[1], y0: sh[2], y1: sh[3],
      fillcolor: "#dcdddc", line: {width: 0}, layer: "below"});
  });

  [[arrowLeft[r], labelLeft[r], 511, 520], [arrowRight[r], labelRight[r], 952.3, 963]].forEach(([ar, lines, ax, tx]) => {
    if (!ar) return;
    annotations.push({xref: "paper", yref: yn, x: px(ax), y: ar[1], axref: "pixel", ayref: yn, ax: 0, ay: ar[0],
      text: "", showarrow: true, arrowside: "end+start", arrowhead: 2, startarrowhead: 2,
      arrowsize: 2.2, startarrowsize: 2.2, arrowwidth: 1.1, arrowcolor: "#000", standoff: 0, startstandoff: 0});
    const mid = (ar[0] + ar[1]) / 2;
    lines.forEach((ln, i) => {
      annotations.push({xref: "paper", yref: yn, x: px(tx), y: mid, yshift: i === 0 ? 12 : -12,
        xanchor: "left", yanchor: "middle", align: "left", text: ln, showarrow: false,
        font: {size: 20, family: FONT}});
    });
  });

  annotations.push({xref: "paper", yref: "paper", x: px(namePos[r][0]), y: py(namePos[r][1]), xanchor: "right",
    yanchor: "middle", text: rowNames[r], showarrow: false, font: {size: 30, family: FONT}});
  annotations.push({xref: "paper", yref: "paper", x: px(unitPos[r][0]), y: py(unitPos[r][1]), xanchor: "right",
    yanchor: "middle", text: rowUnits[r], showarrow: false, font: {size: 20, family: FONT}});
}

annotations.push({xref: "paper", yref: "paper", x: px(349), y: py(23), xanchor: "center", yanchor: "middle",
  text: "<b>" + colTitles[0] + "</b>", showarrow: false, font: {size: 33, family: FONT}});
annotations.push({xref: "paper", yref: "paper", x: px(791), y: py(23), xanchor: "center", yanchor: "middle",
  text: "<b>" + colTitles[1] + "</b>", showarrow: false, font: {size: 33, family: FONT}});

Plotly.newPlot("chart", traces, layout, {displayModeBar: false, staticPlot: true});
</script>
</body></html>
